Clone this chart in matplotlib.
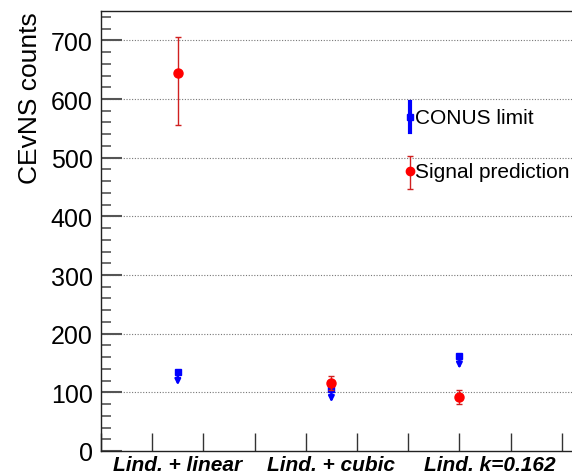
import numpy as np
import matplotlib
matplotlib.use('Agg')
import matplotlib.pyplot as plt
from matplotlib.ticker import MultipleLocator

# datos
categorias = ['Lind. + linear', 'Lind. + cubic', 'Lind. k=0.162']
senal = [645, 116, 92]
senal_err_abajo = [90, 12, 12]
senal_err_arriba = [60, 12, 12]
limite_conus = [134, 105, 162]

plt.rcParams['font.family'] = ['Liberation Sans', 'DejaVu Sans']

# posiciones en el eje x (unidades de tick)
xpos = np.array([1.5, 4.5, 7.0])
xlabel_pos = [1.5, 4.5, 7.6]

fig = plt.figure(figsize=(5.72, 4.77), dpi=100)
W, H = 572, 477
ax = fig.add_axes([101 / W, 1 - 452 / H, 499 / W, 440 / H])
ax.set_xlim(0, 499 / 51.2)
ax.set_ylim(0, 750)

# grilla horizontal punteada
for yv in range(100, 800, 100):
    ax.axhline(yv, color='#777777', ls=(0, (1, 1.5)), lw=0.8, zorder=0)

# prediccion de senal
ax.errorbar(xpos, senal, yerr=[senal_err_abajo, senal_err_arriba], fmt='o',
            color='red', ms=6.5, ecolor='#d02020', elinewidth=1.0,
            capsize=2, capthick=1.0, zorder=4)

# limites CONUS (flecha hacia abajo)
ax.plot(xpos, limite_conus, 's', color='blue', ms=4.5, zorder=3)
for xv, yv in zip(xpos, limite_conus):
    ax.annotate('', xy=(xv, yv - 22), xytext=(xv, yv),
                arrowprops=dict(arrowstyle='-|>', color='blue', lw=1.8,
                                mutation_scale=8, shrinkA=0, shrinkB=0),
                zorder=3)

# ejes estilo ROOT
ax.yaxis.set_major_locator(MultipleLocator(100))
ax.yaxis.set_minor_locator(MultipleLocator(20))
ax.xaxis.set_major_locator(MultipleLocator(1))
ax.tick_params(axis='y', which='major', direction='in', length=15, width=1.5,
               color='#555555', labelsize=18, pad=6, right=False)
ax.tick_params(axis='y', which='minor', direction='in', length=7, width=1.2,
               color='#555555', right=False)
ax.tick_params(axis='x', which='major', direction='in', length=13, width=1,
               color='#333333', labelbottom=False, top=False)
ax.tick_params(axis='x', which='minor', bottom=False, top=False)
for s in ['left', 'bottom', 'top']:
    ax.spines[s].set_color('#222222')
    ax.spines[s].set_linewidth(1.0)
ax.spines['right'].set_visible(False)

ax.set_ylabel('CEvNS counts', fontsize=19, loc='top')
ax.yaxis.set_label_coords(-0.118, 1.0)

for xl, txt in zip(xlabel_pos, categorias):
    ax.text(xl, -6, txt, ha='center', va='top', fontsize=15,
            fontweight='bold', fontstyle='italic', clip_on=False)

# leyenda manual
tr = ax.transAxes
ax.plot([0.619, 0.619], [0.725, 0.793], color='blue', lw=3, transform=tr)
ax.plot([0.619], [0.759], 's', color='blue', ms=4, transform=tr)
ax.text(0.630, 0.759, 'CONUS limit', fontsize=15, va='center', ha='left',
        transform=tr)
ax.errorbar([0.619], [0.636], yerr=[[0.041], [0.034]], fmt='o', color='red',
            ms=6, ecolor='#d02020', elinewidth=1.0, capsize=2, capthick=1.0,
            transform=tr)
ax.text(0.630, 0.636, 'Signal prediction', fontsize=15, va='center',
        ha='left', transform=tr)

fig.savefig('out.png', dpi=100)
